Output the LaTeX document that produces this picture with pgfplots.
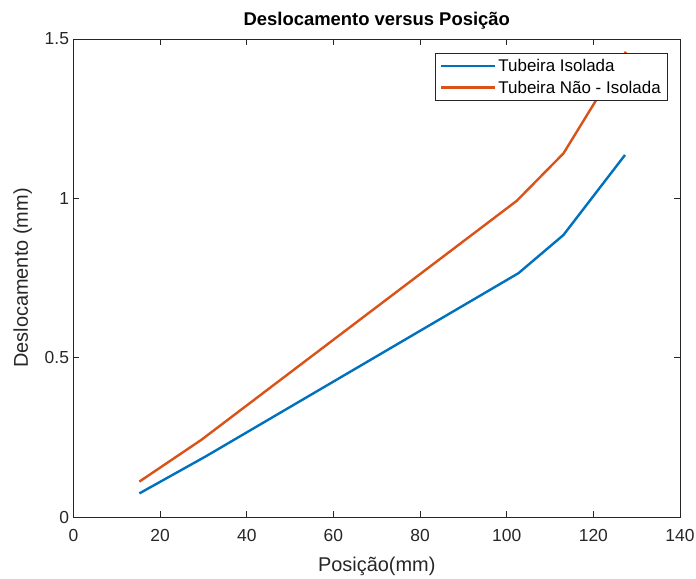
\documentclass[border=0pt]{standalone}
\usepackage{pgfplots}
\pgfplotsset{compat=1.18}
\usepackage{fontspec}
\setmainfont{Liberation Sans}
\definecolor{mblue}{rgb}{0,0.447,0.741}
\definecolor{morange}{rgb}{0.85,0.325,0.098}
\definecolor{axgray}{rgb}{0.15,0.15,0.15}
\begin{document}
\begin{tikzpicture}
\begin{axis}[
  width=606.5bp, height=478bp, scale only axis,
  xmin=0, xmax=140, ymin=0, ymax=1.5,
  xtick={0,20,...,140}, ytick={0,0.5,1,1.5},
  yticklabels={0,0.5,1,1.5},
  tick align=inside, major tick length=6bp,
  axis line style={axgray, line width=0.9bp},
  every tick/.style={axgray, line width=0.9bp},
  tick label style={font=\fontsize{17.5}{20}\selectfont, text=axgray},
  /pgf/number format/assume math mode=true,
  xticklabel style={yshift=-9bp},
  yticklabel style={xshift=-1bp},
  xlabel={Posição(mm)}, ylabel={Deslocamento (mm)},
  label style={font=\fontsize{20}{23}\selectfont, text=axgray},
  xlabel style={yshift=-8bp},
  ylabel style={yshift=6bp},
  title={\textbf{Deslocamento versus Posição}},
  title style={font=\fontsize{18.5}{21}\selectfont, yshift=0bp},
  legend style={at={(0.9805,0.9705)}, anchor=north east, draw=axgray, line width=0.9bp,
    font=\fontsize{17}{20}\selectfont, inner xsep=5bp, inner ysep=3.5bp, row sep=4bp,
    cells={anchor=west}},
  legend cell align=left,
  legend image code/.code={\draw[#1] (0bp,0bp) -- (54bp,0bp);},
]
\addplot[mblue, line width=2.4bp] coordinates {
  (15.2,0.074) (30.5,0.190) (102.7,0.765) (113.1,0.885) (127.3,1.136)
};
\addlegendentry{Tubeira Isolada}
\addplot[morange, line width=2.4bp] coordinates {
  (15.2,0.111) (29.5,0.242) (102.3,0.992) (113.1,1.141) (127.5,1.460)
};
\addlegendentry{Tubeira Não - Isolada}
\end{axis}
\pgfresetboundingbox
\path[use as bounding box] ([xshift=-73.5bp,yshift=-62bp]current axis.south west)
  rectangle ([xshift=16bp,yshift=39bp]current axis.north east);
\end{tikzpicture}
\end{document}
